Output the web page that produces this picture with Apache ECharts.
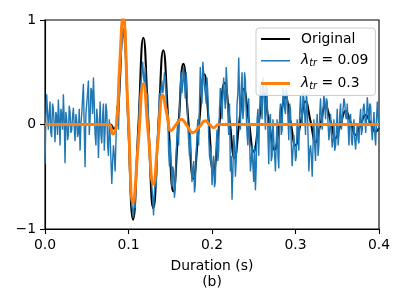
<!DOCTYPE html>
<html><head><meta charset="utf-8">
<script src="https://cdn.jsdelivr.net/npm/echarts@6/dist/echarts.min.js"></script>
<style>html,body{margin:0;padding:0;background:#fff}#c{width:407px;height:305px}</style>
</head><body><div id="c"></div>
<script>
const xTicks = [0, 0.1, 0.2, 0.3, 0.4];
const yTicks = [-1, 0, 1];
const seriesNames = ['Original', 'λtr = 0.09', 'λtr = 0.3'];
const axisTitle = 'Duration (s)';
const panelTag = '(b)';

// Original signal: key points (time s, amplitude)
const origT = [0, 0.078, 0.082, 0.0868, 0.0938, 0.0995, 0.1055, 0.1117, 0.1178, 0.1237, 0.1297, 0.1357, 0.1417, 0.1477, 0.1537, 0.1597, 0.1657, 0.1717, 0.1777, 0.1842, 0.1908, 0.1962, 0.2016, 0.2084, 0.2152, 0.2211, 0.227, 0.2325, 0.238, 0.244, 0.250, 0.256, 0.262, 0.268, 0.275, 0.281, 0.288, 0.294, 0.300, 0.306, 0.312, 0.318, 0.324, 0.330, 0.336, 0.342, 0.348, 0.354, 0.360, 0.366, 0.372, 0.378, 0.384, 0.390, 0.396, 0.4];
const origV = [0, 0, -0.04, 0.05, 1.02, 0.05, -0.91, -0.04, 0.83, 0.02, -0.80, -0.04, 0.71, 0.03, -0.64, -0.03, 0.58, 0.03, -0.52, -0.02, 0.48, 0.02, -0.45, -0.02, 0.40, 0.04, -0.32, 0.01, 0.34, 0.04, -0.26, 0.02, 0.30, 0.03, -0.24, 0.01, 0.26, 0.03, -0.20, 0.01, 0.22, 0.03, -0.17, 0.01, 0.18, 0.03, -0.13, 0.0, 0.13, 0.02, -0.10, 0.0, 0.09, 0.01, -0.07, -0.03];

// lambda_tr = 0.09 : noisy reconstruction, one sample per 1 ms from t = 0
const noisyStep = 0.001;
const noisyV = [
 -0.38, 0.05, 0.29, 0.12, -0.05, 0.1, 0.22, -0.08, -0.12, 0.2,
 0.15, 0.0, -0.17, 0.12, 0.08, -0.1, 0.24, 0.05, -0.2, 0.15,
 0.1, -0.05, 0.29, 0.05, -0.37, 0.12, 0.05, -0.15, -0.1, 0.18,
 0.12, -0.08, -0.05, 0.08, 0.16, -0.02, -0.16, 0.1, 0.04, -0.12,
 -0.08, 0.15, -0.25, 0.0, 0.1, 0.25, 0.39, -0.05, -0.41, 0.1,
 0.2, 0.3, 0.42, -0.1, 0.05, 0.35, 0.32, 0.1, 0.45, 0.2,
 -0.1, -0.2, 0.15, 0.05, -0.32, -0.05, 0.22, -0.1, -0.18, 0.08,
 0.2, -0.25, -0.05, 0.2, 0.12, -0.2, -0.3, 0.05, -0.1, -0.35,
 -0.57, -0.35, -0.2, -0.3, -0.45, -0.15, 0.18, 0.1, -0.05, 0.25,
 0.6, 0.65, 0.75, 0.85, 0.92, 0.8, 0.7, 0.55, 0.45, 0.15,
 -0.1, -0.35, -0.62, -0.7, -0.78, -0.82, -0.88, -0.75, -0.8, -0.5,
 -0.3, -0.25, -0.05, 0.2, 0.3, 0.4, 0.5, 0.6, 0.45, 0.4,
 0.55, 0.35, 0.2, 0.3, 0.05, -0.3, -0.5, -0.4, -0.6, -0.7,
 -0.87, -0.65, -0.55, -0.6, -0.45, -0.05, 0.1, 0.3, 0.2, 0.35,
 0.42, 0.3, 0.35, 0.5, 0.45, 0.3, 0.05, 0.15, -0.25, -0.4,
 -0.15, -0.35, -0.6, -0.4, -0.45, -0.7, -0.62, -0.3, -0.1, 0.05,
 -0.2, 0.1, 0.35, 0.5, 0.3, 0.4, 0.55, 0.4, 0.25, 0.5,
 0.38, 0.0, -0.15, -0.3, -0.05, -0.3, -0.55, -0.45, -0.35, -0.65,
 -0.58, -0.3, -0.1, 0.05, -0.2, 0.2, 0.55, 0.35, 0.2, 0.6,
 0.5, 0.35, 0.3, 0.2, 0.45, 0.3, -0.1, -0.3, -0.35, -0.2,
 -0.58, -0.45, -0.3, -0.6, -0.55, -0.2, -0.05, -0.35, -0.25, 0.15,
 0.35, 0.2, 0.05, 0.3, 0.45, 0.25, 0.15, 0.55, 0.4, 0.1,
 -0.1, 0.2, -0.45, -0.3, -0.72, -0.45, -0.1, -0.2, -0.5, -0.35,
 0.2, 0.3, 0.64, 0.25, -0.05, 0.35, 0.5, 0.05, 0.15, 0.5,
 0.42, 0.1, -0.1, -0.2, 0.25, -0.15, -0.45, -0.35, -0.2, -0.4,
 -0.55, -0.2, -0.63, -0.4, 0.05, 0.15, -0.3, 0.1, 0.38, 0.2,
 0.05, 0.45, 0.35, 0.15, -0.05, 0.4, 0.3, -0.1, -0.38, 0.05,
 0.1, -0.35, -0.3, 0.05, -0.15, -0.3, -0.45, -0.15, 0.05, -0.3,
 -0.42, 0.1, 0.2, -0.1, -0.05, 0.35, 0.3, 0.15, 0.1, 0.35,
 0.28, 0.05, -0.15, 0.2, 0.15, -0.2, -0.4, -0.25, -0.1, -0.2,
 -0.35, -0.3, 0.05, -0.05, -0.25, 0.1, 0.28, 0.1, 0.0, 0.3,
 0.25, 0.1, -0.1, 0.3, 0.2, -0.1, -0.45, -0.25, -0.2, -0.3,
 -0.5, -0.2, 0.05, -0.2, -0.35, -0.05, 0.1, -0.3, -0.2, 0.1,
 0.25, 0.05, -0.05, 0.15, 0.28, 0.2, 0.05, 0.25, 0.22, 0.0,
 -0.15, -0.05, 0.1, -0.1, -0.22, -0.15, 0.05, -0.25, -0.2, -0.05,
 0.15, -0.2, -0.1, 0.1, 0.2, -0.05, -0.05, 0.15, 0.25, 0.2,
 0.08, 0.05, 0.2, 0.0, -0.2, 0.05, 0.1, -0.15, -0.2, -0.05,
 0.05, -0.15, -0.24, -0.1, 0.0, -0.15, -0.18, 0.05, 0.15, -0.1,
 -0.05, 0.15, 0.2, 0.1, -0.08, 0.05, 0.26, 0.15, 0.0, 0.2,
 0.18, -0.05, -0.15, 0.0, 0.12, -0.1, -0.2, 0.05, 0.22, 0.05,
 -0.05
];

// lambda_tr = 0.3 : smooth reconstruction, key points
const lamT = [0, 0.076, 0.081, 0.0855, 0.089, 0.0935, 0.0995, 0.1055, 0.1117, 0.1178, 0.1237, 0.1297, 0.1354, 0.141, 0.146, 0.151, 0.157, 0.163, 0.170, 0.177, 0.185, 0.192, 0.197, 0.202, 0.208, 0.215, 0.4];
const lamV = [0, 0, -0.09, 0, 0.5, 1.03, 0.12, -0.75, -0.18, 0.39, -0.09, -0.57, -0.14, 0.28, 0.1, -0.06, 0.0, 0.05, -0.01, -0.08, -0.02, 0.035, 0.0, -0.03, 0.0, 0.0, 0];

const origData = origT.map((t, i) => [t, origV[i]]);
const noisyData = noisyV.map((v, i) => [+(i * noisyStep).toFixed(4), v]);
const lamData = lamT.map((t, i) => [t, lamV[i]]);

const FONT = 'DejaVu Sans';
const FS = 13.9;
const lineIcon = h => 'path://M0,0L0.01,0L0.01,0.01Z M0,' + (7 - h / 2) + 'L29,' + (7 - h / 2) + 'L29,' + (7 + h / 2) + 'L0,' + (7 + h / 2) + 'Z M28.99,14L29,14L29,13.99Z';

const chart = echarts.init(document.getElementById('c'), null, {renderer: 'canvas'});
chart.setOption({
  animation: false,
  backgroundColor: '#ffffff',
  grid: {left: 45, right: 28, top: 20, bottom: 76, show: true, borderColor: '#000', borderWidth: 1.1, backgroundColor: 'transparent'},
  xAxis: {
    type: 'value', min: xTicks[0], max: xTicks[xTicks.length - 1], interval: 0.1,
    axisLine: {onZero: false, lineStyle: {color: '#000', width: 1.1}},
    axisTick: {show: true, inside: false, length: 5, lineStyle: {color: '#000', width: 1.1}},
    axisLabel: {color: '#000', fontFamily: FONT, fontSize: FS, margin: 9, formatter: v => v.toFixed(1)},
    splitLine: {show: false},
    name: axisTitle + '\n' + panelTag, nameLocation: 'middle', nameGap: 29,
    nameTextStyle: {color: '#000', fontFamily: FONT, fontSize: FS, lineHeight: 16, verticalAlign: 'top'}
  },
  yAxis: {
    type: 'value', min: yTicks[0], max: yTicks[yTicks.length - 1], interval: 1,
    axisLine: {onZero: false, lineStyle: {color: '#000', width: 1.1}},
    axisTick: {show: true, inside: false, length: 5, lineStyle: {color: '#000', width: 1.1}},
    axisLabel: {color: '#000', fontFamily: FONT, fontSize: FS, margin: 9, formatter: v => (v < 0 ? '\u2212' + Math.abs(v) : String(v))},
    splitLine: {show: false}
  },
  legend: {
    orient: 'vertical', left: 256, top: 28,
    itemWidth: 29, itemHeight: 14, itemGap: 7.7,
    padding: [4, 7, 4, 5],
    backgroundColor: 'rgba(255,255,255,0.85)', borderColor: '#cccccc', borderWidth: 1, borderRadius: 3,
    data: [
      {name: seriesNames[0], icon: lineIcon(2.1)},
      {name: seriesNames[1], icon: lineIcon(1.4)},
      {name: seriesNames[2], icon: lineIcon(3)}
    ],
    itemStyle: {borderWidth: 0},
    textStyle: {color: '#000', fontFamily: FONT, fontSize: FS,
      rich: {
        g: {width: 6},
        l: {fontStyle: 'italic', fontFamily: FONT, fontSize: FS, color: '#000'},
        s: {fontStyle: 'italic', fontFamily: FONT, fontSize: 9.7, color: '#000', padding: [6, 0, 0, 0]},
        n: {fontFamily: FONT, fontSize: FS, color: '#000'}
      }},
    formatter: function (name) {
      if (name === seriesNames[0]) return '{g|}{n|' + name + '}';
      const val = name.split('= ')[1];
      return '{g|}{l|λ}{s|tr}{n| = ' + val + '}';
    }
  },
  series: [
    {name: seriesNames[0], type: 'line', data: origData, showSymbol: false, symbol: 'none', smooth: 0.5,
     lineStyle: {color: '#000000', width: 2.1}, itemStyle: {color: '#000000'}, z: 2},
    {name: seriesNames[1], type: 'line', data: noisyData, showSymbol: false, symbol: 'none', smooth: false,
     lineStyle: {color: '#1f77b4', width: 1.4}, itemStyle: {color: '#1f77b4'}, z: 3},
    {name: seriesNames[2], type: 'line', data: lamData, showSymbol: false, symbol: 'none', smooth: 0.5,
     lineStyle: {color: '#ff7f0e', width: 3}, itemStyle: {color: '#ff7f0e'}, z: 4}
  ]
});
</script>
</body></html>
